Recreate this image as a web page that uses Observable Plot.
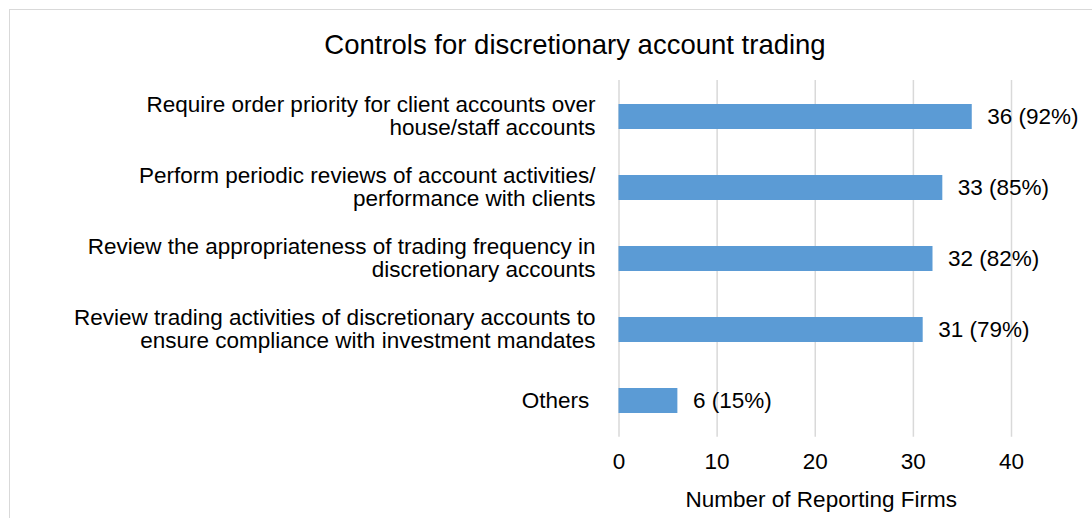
<!DOCTYPE html>
<html>
<head>
<meta charset="utf-8">
<script src="https://cdn.jsdelivr.net/npm/d3@7"></script>
<script src="https://cdn.jsdelivr.net/npm/@observablehq/plot@0.6"></script>
<style>
  html, body { margin: 0; padding: 0; background: #fff; overflow: hidden; }
  #wrap { position: relative; width: 1092px; height: 518px; overflow: hidden; font-family: "Liberation Sans", Arial, sans-serif; }
  #border { position: absolute; left: 9px; top: 9px; width: 1200px; height: 600px; border: 1.5px solid #d9d9d9; box-sizing: border-box; }
  #title { position: absolute; left: 0; top: 31px; width: 1150px; text-align: center; font-size: 27.5px; line-height: 27px; color: #000; }
  #chart { position: absolute; left: 0; top: 0; }
</style>
</head>
<body>
<div id="wrap">
  <div id="border"></div>
  <div id="chart"></div>
  <div id="title">Controls for discretionary account trading</div>
</div>
<script>
const categories = [
  "Require order priority for client accounts over\nhouse/staff accounts",
  "Perform periodic reviews of account activities/\nperformance with clients",
  "Review the appropriateness of trading frequency in\ndiscretionary accounts",
  "Review trading activities of discretionary accounts to\nensure compliance with investment mandates",
  "Others\u00a0"
];
const counts = [36, 33, 32, 31, 6];
const percents = [92, 85, 82, 79, 15];
const xTicks = [0, 10, 20, 30, 40];
const xLabel = "Number of Reporting Firms";

const data = categories.map((c, i) => ({label: c, value: counts[i], pct: percents[i]}));

const FS = 22.5;
const chart = Plot.plot({
  width: 1092,
  height: 518,
  marginLeft: 618.5,
  marginRight: 81,
  marginTop: 80,
  marginBottom: 81.3,
  style: {fontFamily: "'Liberation Sans', Arial, sans-serif", fontSize: FS + "px", color: "#000", background: "transparent"},
  x: {domain: [0, 40], axis: null},
  y: {domain: categories, paddingInner: 0.65, paddingOuter: 0.325, axis: null},
  marks: [
    Plot.gridX(xTicks, {stroke: "#d9d9d9", strokeOpacity: 1, strokeWidth: 1.5}),
    Plot.barX(data, {x: "value", y: "label", fill: "#5b9bd5"}),
    Plot.text(data, {x: "value", y: "label", text: d => `${d.value} (${d.pct}%)`, textAnchor: "start", dx: 15, fill: "#000", fontSize: FS}),
    Plot.text(data, {y: "label", text: "label", frameAnchor: "left", textAnchor: "end", dx: -23.5, dy: -1, lineHeight: 1.04, fill: "#000", fontSize: FS}),
    Plot.axisX(xTicks, {tickSize: 0, tickPadding: 16, label: null, fontSize: FS, fill: "#000"}),
    Plot.text([xLabel], {frameAnchor: "bottom", lineAnchor: "middle", dy: 62.3, dx: 6, fill: "#000", fontSize: FS})
  ]
});
document.getElementById("chart").appendChild(chart);
</script>
</body>
</html>
